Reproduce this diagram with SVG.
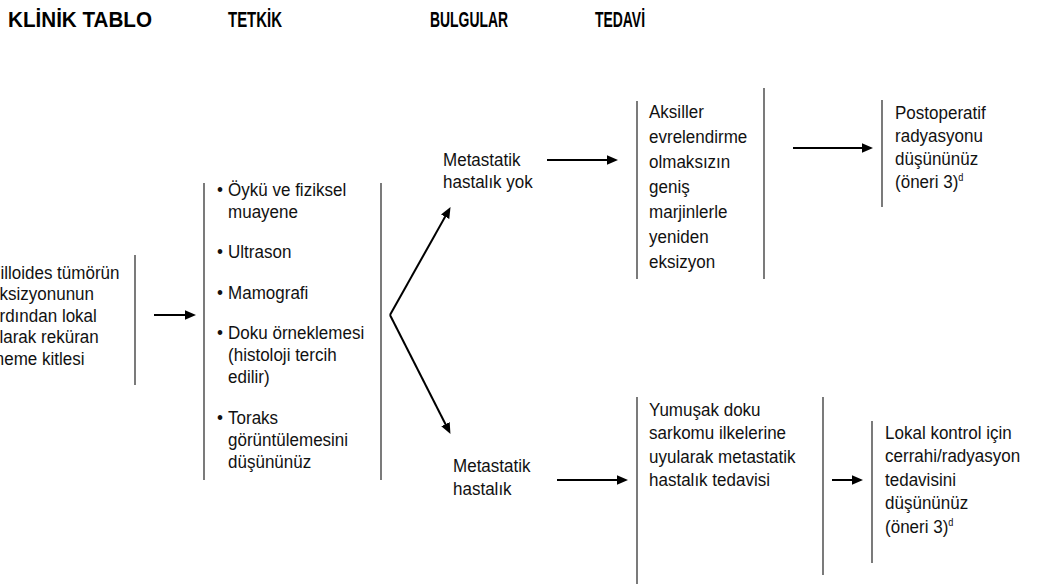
<svg xmlns="http://www.w3.org/2000/svg" width="1044" height="585" viewBox="0 0 1044 585">
<defs>
<style>
.t{font-family:"Liberation Sans",Arial,sans-serif;font-size:18.5px;fill:#111}
.h{font-family:"Liberation Sans",Arial,sans-serif;font-size:22px;font-weight:bold;fill:#000}
.v{stroke:#333;stroke-width:1.3;fill:none}
.a{stroke:#000;stroke-width:2;fill:none;marker-end:url(#ah)}
.sup{font-size:10px}
</style>
<marker id="ah" markerUnits="userSpaceOnUse" markerWidth="11" markerHeight="11" viewBox="0 0 11 10" refX="4" refY="5" orient="auto">
<path d="M0,0.3 L11,5 L0,9.7 z" fill="#000"/>
</marker>
</defs>
<rect width="1044" height="585" fill="#fff"/>

<g id="headers">
<text class="h" x="8" y="27" textLength="144" lengthAdjust="spacingAndGlyphs">KLİNİK TABLO</text>
<text class="h" x="228" y="27" textLength="54" lengthAdjust="spacingAndGlyphs">TETKİK</text>
<text class="h" x="430" y="27" textLength="78" lengthAdjust="spacingAndGlyphs">BULGULAR</text>
<text class="h" x="595" y="27" textLength="50" lengthAdjust="spacingAndGlyphs">TEDAVİ</text>
</g>

<g id="klinik">
<text class="t" transform="translate(-10,0) scale(0.92,1)">
<tspan x="0" y="279">Filloides tümörün</tspan>
<tspan x="0" y="300.5">eksizyonunun</tspan>
<tspan x="0" y="322">ardından lokal</tspan>
<tspan x="0" y="343.5">olarak reküran</tspan>
<tspan x="0" y="365">meme kitlesi</tspan>
</text>
<line class="v" x1="135" y1="255" x2="135" y2="385"/>
</g>

<g id="tetkik">
<line class="v" x1="204" y1="183" x2="204" y2="480"/>
<line class="v" x1="381" y1="183" x2="381" y2="480"/>
<text class="t" transform="translate(217,0) scale(0.92,1)">
<tspan x="0" y="196">•</tspan><tspan x="12" y="196">Öykü ve fiziksel</tspan>
<tspan x="12" y="218">muayene</tspan>
<tspan x="0" y="258.5">•</tspan><tspan x="12" y="258.5">Ultrason</tspan>
<tspan x="0" y="299">•</tspan><tspan x="12" y="299">Mamografi</tspan>
<tspan x="0" y="339.5">•</tspan><tspan x="12" y="339.5">Doku örneklemesi</tspan>
<tspan x="12" y="361.5">(histoloji tercih</tspan>
<tspan x="12" y="383.5">edilir)</tspan>
<tspan x="0" y="424">•</tspan><tspan x="12" y="424">Toraks</tspan>
<tspan x="12" y="446">görüntülemesini</tspan>
<tspan x="12" y="468">düşününüz</tspan>
</text>
</g>

<g id="metastaz-yok">
<text class="t" transform="translate(443,0) scale(0.92,1)">
<tspan x="0" y="166">Metastatik</tspan>
<tspan x="0" y="188">hastalık yok</tspan>
</text>
</g>

<g id="metastaz-var">
<text class="t" transform="translate(453,0) scale(0.92,1)">
<tspan x="0" y="472">Metastatik</tspan>
<tspan x="0" y="495">hastalık</tspan>
</text>
</g>

<g id="eksizyon">
<line class="v" x1="637" y1="101" x2="637" y2="279"/>
<line class="v" x1="764" y1="88" x2="764" y2="279"/>
<text class="t" transform="translate(649,0) scale(0.92,1)">
<tspan x="0" y="118">Aksiller</tspan>
<tspan x="0" y="143">evrelendirme</tspan>
<tspan x="0" y="168">olmaksızın</tspan>
<tspan x="0" y="193">geniş</tspan>
<tspan x="0" y="218">marjinlerle</tspan>
<tspan x="0" y="243">yeniden</tspan>
<tspan x="0" y="268">eksizyon</tspan>
</text>
</g>

<g id="postop">
<line class="v" x1="882" y1="100" x2="882" y2="207"/>
<text class="t" transform="translate(895,0) scale(0.92,1)">
<tspan x="0" y="119">Postoperatif</tspan>
<tspan x="0" y="142">radyasyonu</tspan>
<tspan x="0" y="165">düşününüz</tspan>
<tspan x="0" y="188">(öneri 3)</tspan><tspan class="sup" dy="-7">d</tspan>
</text>
</g>

<g id="sarkom">
<line class="v" x1="637" y1="397" x2="637" y2="584"/>
<line class="v" x1="823" y1="397" x2="823" y2="575"/>
<text class="t" transform="translate(649,0) scale(0.92,1)">
<tspan x="0" y="416">Yumuşak doku</tspan>
<tspan x="0" y="439.3">sarkomu ilkelerine</tspan>
<tspan x="0" y="462.6">uyularak metastatik</tspan>
<tspan x="0" y="486">hastalık tedavisi</tspan>
</text>
</g>

<g id="lokal">
<line class="v" x1="872" y1="421" x2="872" y2="563"/>
<text class="t" transform="translate(885,0) scale(0.92,1)">
<tspan x="0" y="439">Lokal kontrol için</tspan>
<tspan x="0" y="462.5">cerrahi/radyasyon</tspan>
<tspan x="0" y="486">tedavisini</tspan>
<tspan x="0" y="509.5">düşününüz</tspan>
<tspan x="0" y="533">(öneri 3)</tspan><tspan class="sup" dy="-7">d</tspan>
</text>
</g>

<g id="connectors">
<line class="a" x1="154" y1="315" x2="189" y2="315"/>
<line class="a" x1="390" y1="315" x2="447.1" y2="213.2"/>
<line class="a" x1="390" y1="315" x2="447.3" y2="427.7"/>
<line class="a" x1="547" y1="160" x2="611" y2="160"/>
<line class="a" x1="793" y1="148" x2="866" y2="148"/>
<line class="a" x1="557" y1="480" x2="621" y2="480"/>
<line class="a" x1="832" y1="480" x2="856" y2="480"/>
</g>
</svg>
